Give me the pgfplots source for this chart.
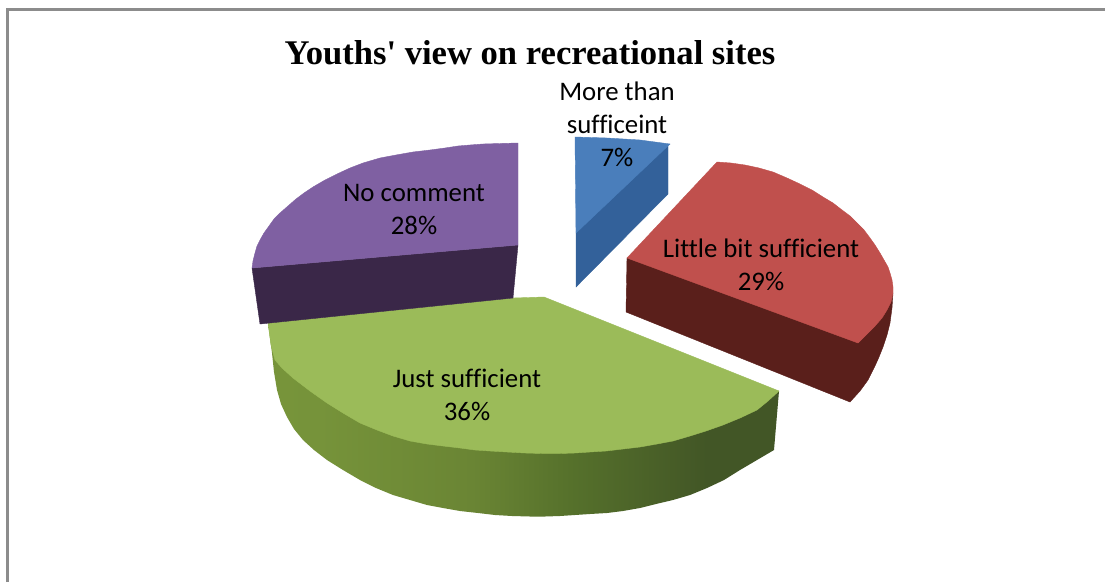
\documentclass[border=0pt]{standalone}
\usepackage{fontspec}
\setmainfont[Ligatures=NoCommon]{Carlito}
\newfontfamily\titlefont{Liberation Serif}
\usepackage{pgfplots}
\pgfplotsset{compat=1.18}

\definecolor{framegray}{HTML}{8C8C8C}
\definecolor{bluetop}{HTML}{4A7EBB}
\definecolor{blueside}{HTML}{33619A}
\definecolor{redtop}{HTML}{C0504D}
\definecolor{redside}{HTML}{5A1F1B}
\definecolor{greentop}{HTML}{9BBB59}
\definecolor{purpletop}{HTML}{7F60A2}
\definecolor{purpleside}{HTML}{3A2748}
\definecolor{gsa}{HTML}{7C9A3C}
\definecolor{gsb}{HTML}{76933A}
\definecolor{gsc}{HTML}{6A8534}
\definecolor{gsd}{HTML}{55702B}
\definecolor{gse}{HTML}{425626}

\pgfdeclarehorizontalshading{greenside}{100bp}{
  color(0bp)=(gsa);
  color(30bp)=(gsb);
  color(45bp)=(gsc);
  color(55bp)=(gsd);
  color(68bp)=(gse);
  color(100bp)=(gse)}

\tikzset{labelnode/.style={font=\fontsize{26.8}{33}\selectfont, align=center, text=black}}

\begin{document}
\begin{tikzpicture}
\begin{axis}[
    scale only axis,
    width=1105pt, height=582pt,
    xmin=0, xmax=1105, ymin=0, ymax=582,
    y dir=reverse,
    hide axis,
    clip=true,
    every axis plot/.append style={forget plot},
]
% page background
\addplot[draw=none, fill=white] coordinates {(0,0) (1105,0) (1105,582) (0,582)} --cycle;
% frame, top and left only
\addplot[framegray, line width=3pt] coordinates {(7.7,582) (7.7,9.7) (1105,9.7)};

% more than sufficient
\addplot[draw=blueside, line width=0.4pt, fill=blueside] coordinates {(576,232) (668,145) (668,194) (576,287)} --cycle;
\addplot[draw=bluetop, line width=0.4pt, fill=bluetop] coordinates {(575,137) (607,138) (640,140) (670,144) (576,233)} --cycle;

% little bit sufficient
\addplot[draw=redside, line width=0.4pt, fill=redside] coordinates {
    (627,258) (893,293) (892,308) (890,323) (887,335) (883,347) (879,357) (875,366)
    (868,380) (860,391) (850,402) (626,312)} --cycle;
\addplot[draw=redtop, line width=0.4pt, fill=redtop] coordinates {
    (627,258) (717,162) (731,163) (745,165) (759,168) (773,172) (787,178) (800,184)
    (812,190) (823,197) (833,203) (842,210) (850,216) (857,223) (864,230) (870,238)
    (875,245) (880,253) (884,260) (888,267) (890,273) (892,280) (893,287) (893,293)
    (891,302) (887,310) (882,318) (875,326) (867,334) (858,343)} --cycle;

% just sufficient
\addplot[draw=none, shade, shading=greenside] coordinates {
    (268,323) (270,338) (272,353) (274,372) (277,390) (281,404) (287,417) (294,429)
    (303,440) (314,450) (327,460) (343,470) (360,480) (376,488) (393,495) (410,500)
    (427,505) (443,508) (460,511) (478,513) (495,515) (512,516) (530,516.5) (545,516.5)
    (560,516) (575,515) (590,514) (607,513) (623,511) (640,508) (656,504) (673,500)
    (690,495) (707,488) (724,480) (740,470) (757,460) (774,450) (779,391)} --cycle;
\addplot[draw=greentop, line width=0.4pt, fill=greentop] coordinates {
    (268,323) (513,298) (544,297) (779,391) (768,401) (757,410) (740,418) (723,425)
    (706,431) (690,436) (673,441) (657,444) (640,447) (623,449) (606,451) (590,452)
    (575,453) (560,453.5) (542,453.5) (525,453) (507,452) (490,451) (475,450) (460,448)
    (443,446) (427,444) (410,441) (393,436) (377,430) (360,423) (343,413) (327,403)
    (310,391) (293,378) (282,368) (275,360) (271,345)} --cycle;

% no comment
\addplot[draw=purpleside, line width=0.4pt, fill=purpleside] coordinates {(252,268) (518,245) (513,298) (260,324)} --cycle;
\addplot[draw=purpletop, line width=0.4pt, fill=purpletop] coordinates {
    (252,268) (253,261) (255,253) (257,246) (260,240) (264,233) (269,226) (274,219)
    (280,213) (288,206) (296,199) (304,193) (313,187) (325,180) (337,174) (350,168)
    (363,163) (380,158) (396,155) (413,152) (430,150) (445,148) (458,146) (470,145)
    (483,144) (500,143.5) (518,143) (518,245)} --cycle;

\node[font=\titlefont\bfseries\fontsize{34.6}{40}\selectfont] at (axis cs:530,53) {Youths' view on recreational sites};
\node[labelnode] at (axis cs:617,124) {More than\\sufficeint\\7\%};
\node[labelnode] at (axis cs:761,265) {Little bit sufficient\\29\%};
\node[labelnode] at (axis cs:414,209.5) {No comment\\28\%};
\node[labelnode] at (axis cs:467,395) {Just sufficient\\36\%};
\end{axis}
\end{tikzpicture}
\end{document}
